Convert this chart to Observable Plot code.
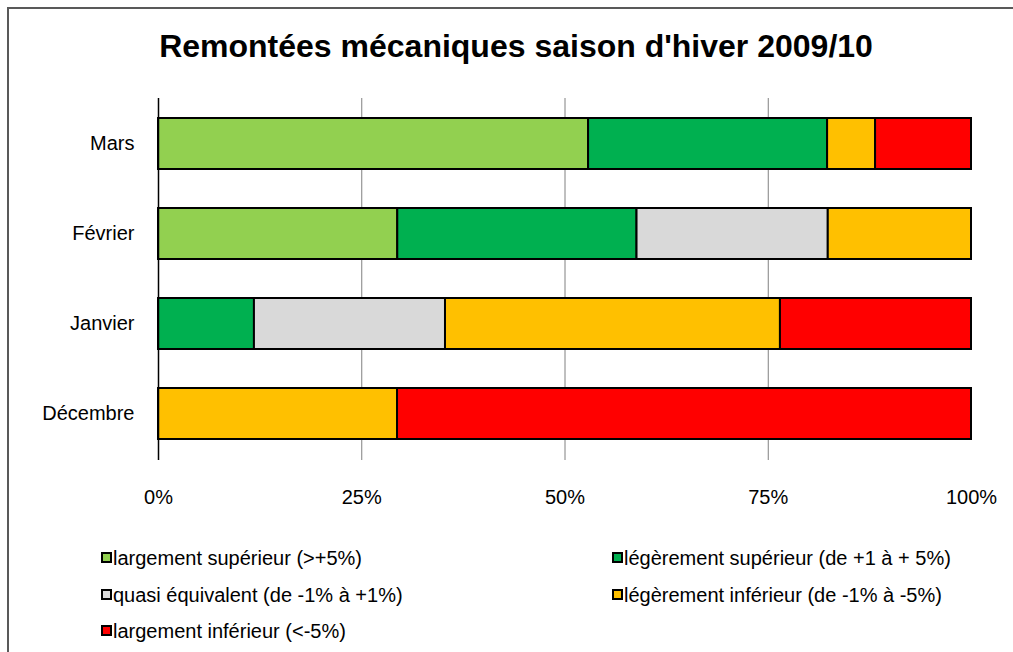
<!DOCTYPE html>
<html><head><meta charset="utf-8">
<script src="https://cdn.jsdelivr.net/npm/d3@7"></script>
<script src="https://cdn.jsdelivr.net/npm/@observablehq/plot@0.6"></script>
<style>
body{margin:0;background:#fff;font-family:"Liberation Sans",Arial,sans-serif;color:#000;}
#wrap{position:relative;width:1013px;height:652px;overflow:hidden;background:#fff;}
#frame{position:absolute;left:7px;top:7px;width:1100px;height:800px;border-left:2px solid #595959;border-top:2px solid #595959;}
#title{position:absolute;left:0;width:1032px;text-align:center;top:30px;font-size:32px;line-height:32px;font-weight:bold;white-space:nowrap;}
#chart{position:absolute;left:0;top:0;}
.li{position:absolute;font-size:20px;line-height:20px;white-space:nowrap;}
.mk{position:absolute;width:7px;height:7px;border:2px solid #000;}
</style></head>
<body>
<div id="wrap">
  <div id="frame"></div>
  <div id="chart"></div>
  <div id="title">Remontées mécaniques saison d'hiver 2009/10</div>
  <div id="legend"></div>
</div>
<script>
const months = ["Mars", "Février", "Janvier", "Décembre"];
const categories = [
  "largement supérieur (>+5%)",
  "légèrement supérieur (de +1 à + 5%)",
  "quasi équivalent (de -1% à +1%)",
  "légèrement inférieur (de -1% à -5%)",
  "largement inférieur (<-5%)"
];
const colors = ["#92D050", "#00B050", "#D9D9D9", "#FFC000", "#FF0000"];
// percentages per category, in month order (Mars, Février, Janvier, Décembre)
const largementSup = [52.9, 29.4, 0, 0];
const legerementSup = [29.4, 29.4, 11.8, 0];
const quasiEquivalent = [0, 23.5, 23.5, 0];
const legerementInf = [5.9, 17.6, 41.2, 29.4];
const largementInf = [11.8, 0, 23.5, 70.6];
const xTicks = [0, 0.25, 0.5, 0.75, 1];

const series = [largementSup, legerementSup, quasiEquivalent, legerementInf, largementInf];
const rows = [];
categories.forEach((c, i) => months.forEach((m, j) => {
  if (series[i][j] > 0) rows.push({month: m, cat: c, value: series[i][j]});
}));

const chart = Plot.plot({
  width: 1013,
  height: 520,
  marginLeft: 158,
  marginRight: 42,
  marginTop: 98,
  marginBottom: 60,
  style: {background: "transparent", fontFamily: "'Liberation Sans', Arial, sans-serif", fontSize: "20px", color: "#000"},
  x: {domain: [0, 1], ticks: xTicks, tickFormat: d3.format(".0%"), tickSize: 0, tickPadding: 29, label: null},
  y: {domain: months, paddingInner: 0.43, paddingOuter: 0.225, tickSize: 0, tickPadding: 24, label: null},
  color: {domain: categories, range: colors},
  marks: [
    Plot.ruleX([0.25, 0.5, 0.75], {stroke: "#808080", strokeWidth: 1}),
    Plot.barX(rows, Plot.stackX({x: "value", y: "month", fill: "cat", order: categories, offset: "normalize", stroke: "#000", strokeWidth: 2})),
    Plot.ruleX([0], {stroke: "#000", strokeWidth: 1.5})
  ]
});
document.getElementById("chart").appendChild(chart);

const legendPos = [[113, 548], [624, 548], [113, 585], [624, 585], [113, 621]];
const legend = document.getElementById("legend");
categories.forEach((c, i) => {
  const [x, y] = legendPos[i];
  const mk = document.createElement("div");
  mk.className = "mk";
  mk.style.left = (x - 12) + "px";
  mk.style.top = (y + 4) + "px";
  mk.style.background = colors[i];
  legend.appendChild(mk);
  const t = document.createElement("div");
  t.className = "li";
  t.style.left = x + "px";
  t.style.top = y + "px";
  t.textContent = c;
  legend.appendChild(t);
});
</script>
</body></html>
